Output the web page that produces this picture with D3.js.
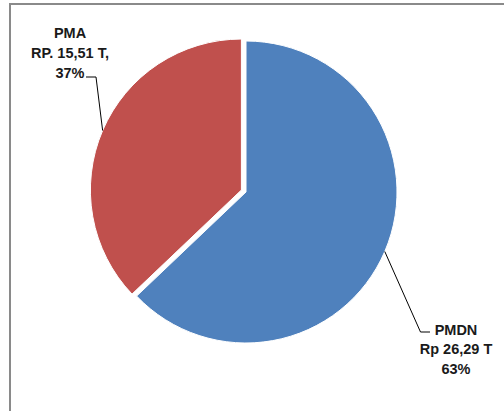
<!DOCTYPE html>
<style>
body { margin: 0; background: #fff; }
text { font-family: "Liberation Sans", Arial, sans-serif; font-weight: bold; font-size: 14.5px; fill: #1a1a1a; }
</style>
<body></body>
<script src="https://d3js.org/d3.v7.min.js"></script>
<script>
const categories = ['PMDN', 'PMA']
const values = [26.29, 15.51]
const labelLines = [
    ['PMDN', 'Rp 26,29 T', '63%'],
    ['PMA', 'RP. 15,51 T,', '37%']
]
const colors = ['#4F81BD', '#C0504D']

const width = 504
const height = 411
const center = { x: 246, y: 192 }
const radius = 151
const explode = [0, 5]

// where each label block sits and where its leader bends
const labelPos = [
    { x: 456, y: 334.5, elbow: [420.5, 332], end: [430, 332] },
    { x: 70, y: 38.3, elbow: [96, 77], end: [86, 77] }
]

const svg = d3.select('body')
    .append('svg')
        .attr('width', width)
        .attr('height', height)

// frame, only top and left edges show
svg.append('path')
    .attr('d', `M10,${height} V4 H${width}`)
    .attr('fill', 'none')
    .attr('stroke', '#8a8a8a')
    .attr('stroke-width', 2)

const pie = d3.pie().sort(null).value(d => d)
const arcs = pie(values)

const arc = d3.arc().innerRadius(0).outerRadius(radius)
const edgeArc = d3.arc().innerRadius(radius).outerRadius(radius)

const g = svg.append('g')
    .attr('transform', `translate(${center.x}, ${center.y})`)

arcs.forEach((a, i) => {
    const mid = (a.startAngle + a.endAngle) / 2
    const dx = Math.sin(mid) * explode[i]
    const dy = -Math.cos(mid) * explode[i]
    const sg = g.append('g').attr('transform', `translate(${dx}, ${dy})`)
    sg.append('path')
        .attr('d', arc(a))
        .attr('fill', colors[i])
        .attr('stroke', '#fff')
        .attr('stroke-width', 1)

    const c = edgeArc.centroid(a)
    const p = labelPos[i]
    const start = [center.x + dx + c[0], center.y + dy + c[1]]
    svg.append('polyline')
        .attr('points', [start, p.elbow, p.end].map(q => q.join(',')).join(' '))
        .attr('fill', 'none')
        .attr('stroke', '#000')
        .attr('stroke-width', 1)

    const t = svg.append('text')
        .attr('text-anchor', 'middle')
    labelLines[i].forEach((line, j) => {
        t.append('tspan')
            .attr('x', p.x)
            .attr('y', p.y + j * 19.6)
            .text(line)
    })
})
</script>
